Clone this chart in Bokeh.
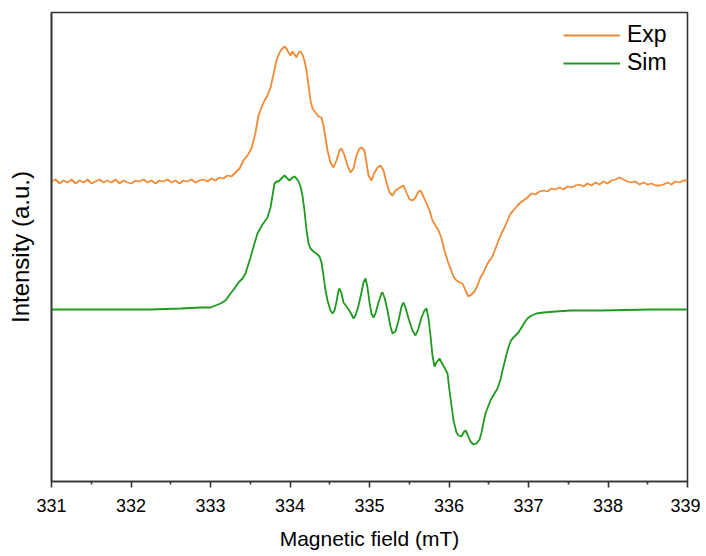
from bokeh.plotting import figure
from bokeh.models import FixedTicker, Range1d
from bokeh.embed import file_html
from bokeh.resources import INLINE

# ---- data ----
exp_field = [331.000, 331.050, 331.101, 331.151, 331.201, 331.252, 331.302, 331.352, 331.403, 331.453,
             331.503, 331.553, 331.604, 331.654, 331.704, 331.755, 331.805, 331.855, 331.906, 331.956,
             332.006, 332.057, 332.107, 332.157, 332.208, 332.258, 332.308, 332.358, 332.409, 332.459,
             332.509, 332.560, 332.610, 332.660, 332.711, 332.761, 332.811, 332.862, 332.912, 332.962,
             333.013, 333.063, 333.113, 333.164, 333.214, 333.264, 333.314, 333.365, 333.415, 333.465,
             333.516, 333.566, 333.604, 333.642, 333.679, 333.717, 333.755, 333.792, 333.830, 333.868,
             333.906, 333.931, 333.956, 333.981, 334.006, 334.031, 334.057, 334.082, 334.107, 334.132,
             334.157, 334.182, 334.208, 334.233, 334.258, 334.283, 334.321, 334.358, 334.396, 334.421,
             334.447, 334.472, 334.509, 334.547, 334.585, 334.623, 334.648, 334.686, 334.723, 334.761,
             334.799, 334.836, 334.874, 334.899, 334.937, 334.962, 334.987, 335.025, 335.063, 335.101,
             335.138, 335.176, 335.214, 335.252, 335.289, 335.327, 335.365, 335.403, 335.428, 335.465,
             335.503, 335.541, 335.579, 335.616, 335.642, 335.679, 335.717, 335.755, 335.792, 335.830,
             335.868, 335.906, 335.943, 335.981, 336.019, 336.057, 336.094, 336.132, 336.170, 336.208,
             336.245, 336.283, 336.321, 336.358, 336.396, 336.434, 336.472, 336.509, 336.547, 336.585,
             336.623, 336.660, 336.698, 336.736, 336.774, 336.811, 336.862, 336.899, 336.937, 336.987,
             337.038, 337.088, 337.138, 337.189, 337.239, 337.289, 337.340, 337.390, 337.440, 337.491,
             337.541, 337.591, 337.642, 337.692, 337.742, 337.792, 337.843, 337.893, 337.943, 337.994,
             338.044, 338.094, 338.145, 338.195, 338.245, 338.296, 338.346, 338.396, 338.447, 338.497,
             338.547, 338.597, 338.648, 338.698, 338.748, 338.799, 338.849, 338.899, 338.950, 339.000]
exp_intensity = [300, 302, 298, 301, 299, 302, 298, 301, 299, 302,
                 298, 300, 302, 299, 301, 299, 302, 298, 301, 299,
                 298, 301, 300, 302, 299, 301, 298, 301, 300, 302,
                 299, 301, 298, 301, 300, 302, 299, 301, 302, 300,
                 303, 301, 304, 303, 306, 305, 309, 313, 321, 326,
                 333, 349, 366, 374, 381, 386, 394, 407, 421, 429,
                 433, 435, 433, 429, 426, 430, 427, 424, 429, 430,
                 427, 421, 411, 396, 381, 373, 369, 365, 364, 356,
                 343, 331, 319, 314, 321, 331, 333, 326, 316, 309,
                 313, 326, 333, 334, 331, 319, 306, 301, 309, 314,
                 316, 311, 299, 289, 286, 291, 293, 295, 296, 289,
                 282, 281, 284, 290, 291, 285, 278, 271, 261, 256,
                 251, 243, 231, 221, 213, 205, 201, 199, 198, 191,
                 185, 187, 190, 196, 204, 209, 216, 221, 225, 233,
                 241, 248, 254, 261, 268, 271, 276, 279, 281, 284,
                 288, 287, 290, 291, 290, 293, 292, 294, 292, 295,
                 294, 296, 297, 295, 298, 296, 299, 297, 300, 298,
                 301, 302, 304, 302, 300, 299, 300, 297, 299, 297,
                 298, 296, 296, 297, 299, 297, 300, 299, 301, 301]

sim_field = [331.000, 331.616, 332.245, 332.623, 332.874, 333.000, 333.126, 333.189, 333.252, 333.302,
             333.352, 333.403, 333.440, 333.503, 333.553, 333.591, 333.654, 333.717, 333.755, 333.780,
             333.805, 333.830, 333.855, 333.893, 333.931, 333.956, 333.994, 334.031, 334.057, 334.082,
             334.107, 334.132, 334.157, 334.182, 334.208, 334.233, 334.258, 334.296, 334.346, 334.371,
             334.396, 334.421, 334.447, 334.472, 334.509, 334.535, 334.560, 334.585, 334.610, 334.623,
             334.648, 334.673, 334.711, 334.761, 334.799, 334.824, 334.862, 334.899, 334.925, 334.950,
             334.975, 335.000, 335.025, 335.050, 335.075, 335.113, 335.151, 335.164, 335.189, 335.226,
             335.264, 335.289, 335.327, 335.365, 335.403, 335.428, 335.453, 335.491, 335.541, 335.579,
             335.616, 335.654, 335.692, 335.717, 335.742, 335.767, 335.792, 335.818, 335.843, 335.881,
             335.906, 335.943, 335.981, 336.006, 336.031, 336.057, 336.094, 336.119, 336.157, 336.182,
             336.208, 336.233, 336.270, 336.308, 336.346, 336.384, 336.409, 336.434, 336.459, 336.497,
             336.522, 336.572, 336.610, 336.648, 336.673, 336.711, 336.736, 336.774, 336.799, 336.836,
             336.874, 336.912, 336.950, 336.987, 337.038, 337.101, 337.189, 337.340, 337.528, 337.906,
             338.535, 339.000]
sim_intensity = [172, 172, 172, 173, 174, 174, 178, 181, 188, 193,
                 199, 203, 208, 224, 238, 248, 257, 264, 274, 286,
                 298, 300, 300, 303, 306, 304, 301, 304, 305, 303,
                 300, 295, 286, 271, 251, 238, 233, 230, 227, 225,
                 219, 206, 191, 181, 171, 168, 171, 180, 191, 193,
                 188, 179, 175, 169, 163, 166, 176, 189, 199, 203,
                 194, 179, 168, 164, 168, 179, 188, 189, 184, 171,
                 155, 148, 150, 161, 175, 179, 174, 163, 151, 146,
                 153, 164, 171, 173, 163, 146, 126, 115, 119, 123,
                 119, 114, 108, 91, 76, 61, 49, 46, 45, 49,
                 51, 47, 40, 37, 38, 42, 49, 59, 68, 76,
                 81, 88, 93, 102, 111, 123, 131, 140, 143, 146,
                 149, 154, 159, 163, 166, 168, 169, 170, 171, 171,
                 172, 172]

x_ticks = [331, 332, 333, 334, 335, 336, 337, 338, 339]
x_minor = [331.5, 332.5, 333.5, 334.5, 335.5, 336.5, 337.5, 338.5]
series_names = ["Exp", "Sim"]
series_colors = ["#F28A33", "#1E9B1E"]

FONT = "Liberation Sans"

p = figure(width=700, height=556, output_backend="svg", toolbar_location=None,
           x_range=Range1d(331, 339), y_range=Range1d(0, 469),
           min_border_left=51, min_border_right=13, min_border_top=12, min_border_bottom=75)

p.line(exp_field, exp_intensity, line_color=series_colors[0], line_width=1.8, legend_label=series_names[0])
p.line(sim_field, sim_intensity, line_color=series_colors[1], line_width=1.8, legend_label=series_names[1])

p.grid.visible = False
p.background_fill_color = "white"
p.border_fill_color = "white"
p.outline_line_color = "#333333"
p.outline_line_width = 1.6
p.outline_line_alpha = 1.0

xa = p.xaxis[0]
xa.ticker = FixedTicker(ticks=x_ticks, minor_ticks=x_minor)
xa.axis_label = "Magnetic field (mT)"
xa.axis_label_text_font = FONT
xa.axis_label_text_font_size = "21px"
xa.axis_label_text_font_style = "normal"
xa.axis_label_text_color = "black"
xa.axis_label_standoff = 12
xa.major_label_text_font = FONT
xa.major_label_text_font_size = "18px"
xa.major_label_text_color = "black"
xa.major_label_standoff = 11
xa.axis_line_color = "#333333"
xa.axis_line_width = 1.6
xa.major_tick_line_color = "#333333"
xa.major_tick_line_width = 1.6
xa.minor_tick_line_color = "#333333"
xa.minor_tick_line_width = 1.6
xa.major_tick_in = 0
xa.major_tick_out = 6
xa.minor_tick_in = 0
xa.minor_tick_out = 3

ya = p.yaxis[0]
ya.ticker = FixedTicker(ticks=[])
ya.axis_label = "Intensity (a.u.)"
ya.axis_label_text_font = FONT
ya.axis_label_text_font_size = "24px"
ya.axis_label_text_font_style = "normal"
ya.axis_label_text_color = "black"
ya.axis_label_standoff = 18
ya.major_label_text_font_size = "0px"
ya.major_tick_line_color = None
ya.minor_tick_line_color = None
ya.axis_line_color = "#333333"
ya.axis_line_width = 1.6

lg = p.legend[0]
lg.location = (512, 405)
lg.border_line_color = None
lg.background_fill_alpha = 0
lg.label_text_font = FONT
lg.label_text_font_size = "23px"
lg.label_text_color = "black"
lg.glyph_width = 57
lg.glyph_height = 24
lg.label_height = 24
lg.label_standoff = 7
lg.spacing = 1
lg.padding = 5
lg.margin = 0

open("out.html", "w").write(file_html(p, INLINE))
